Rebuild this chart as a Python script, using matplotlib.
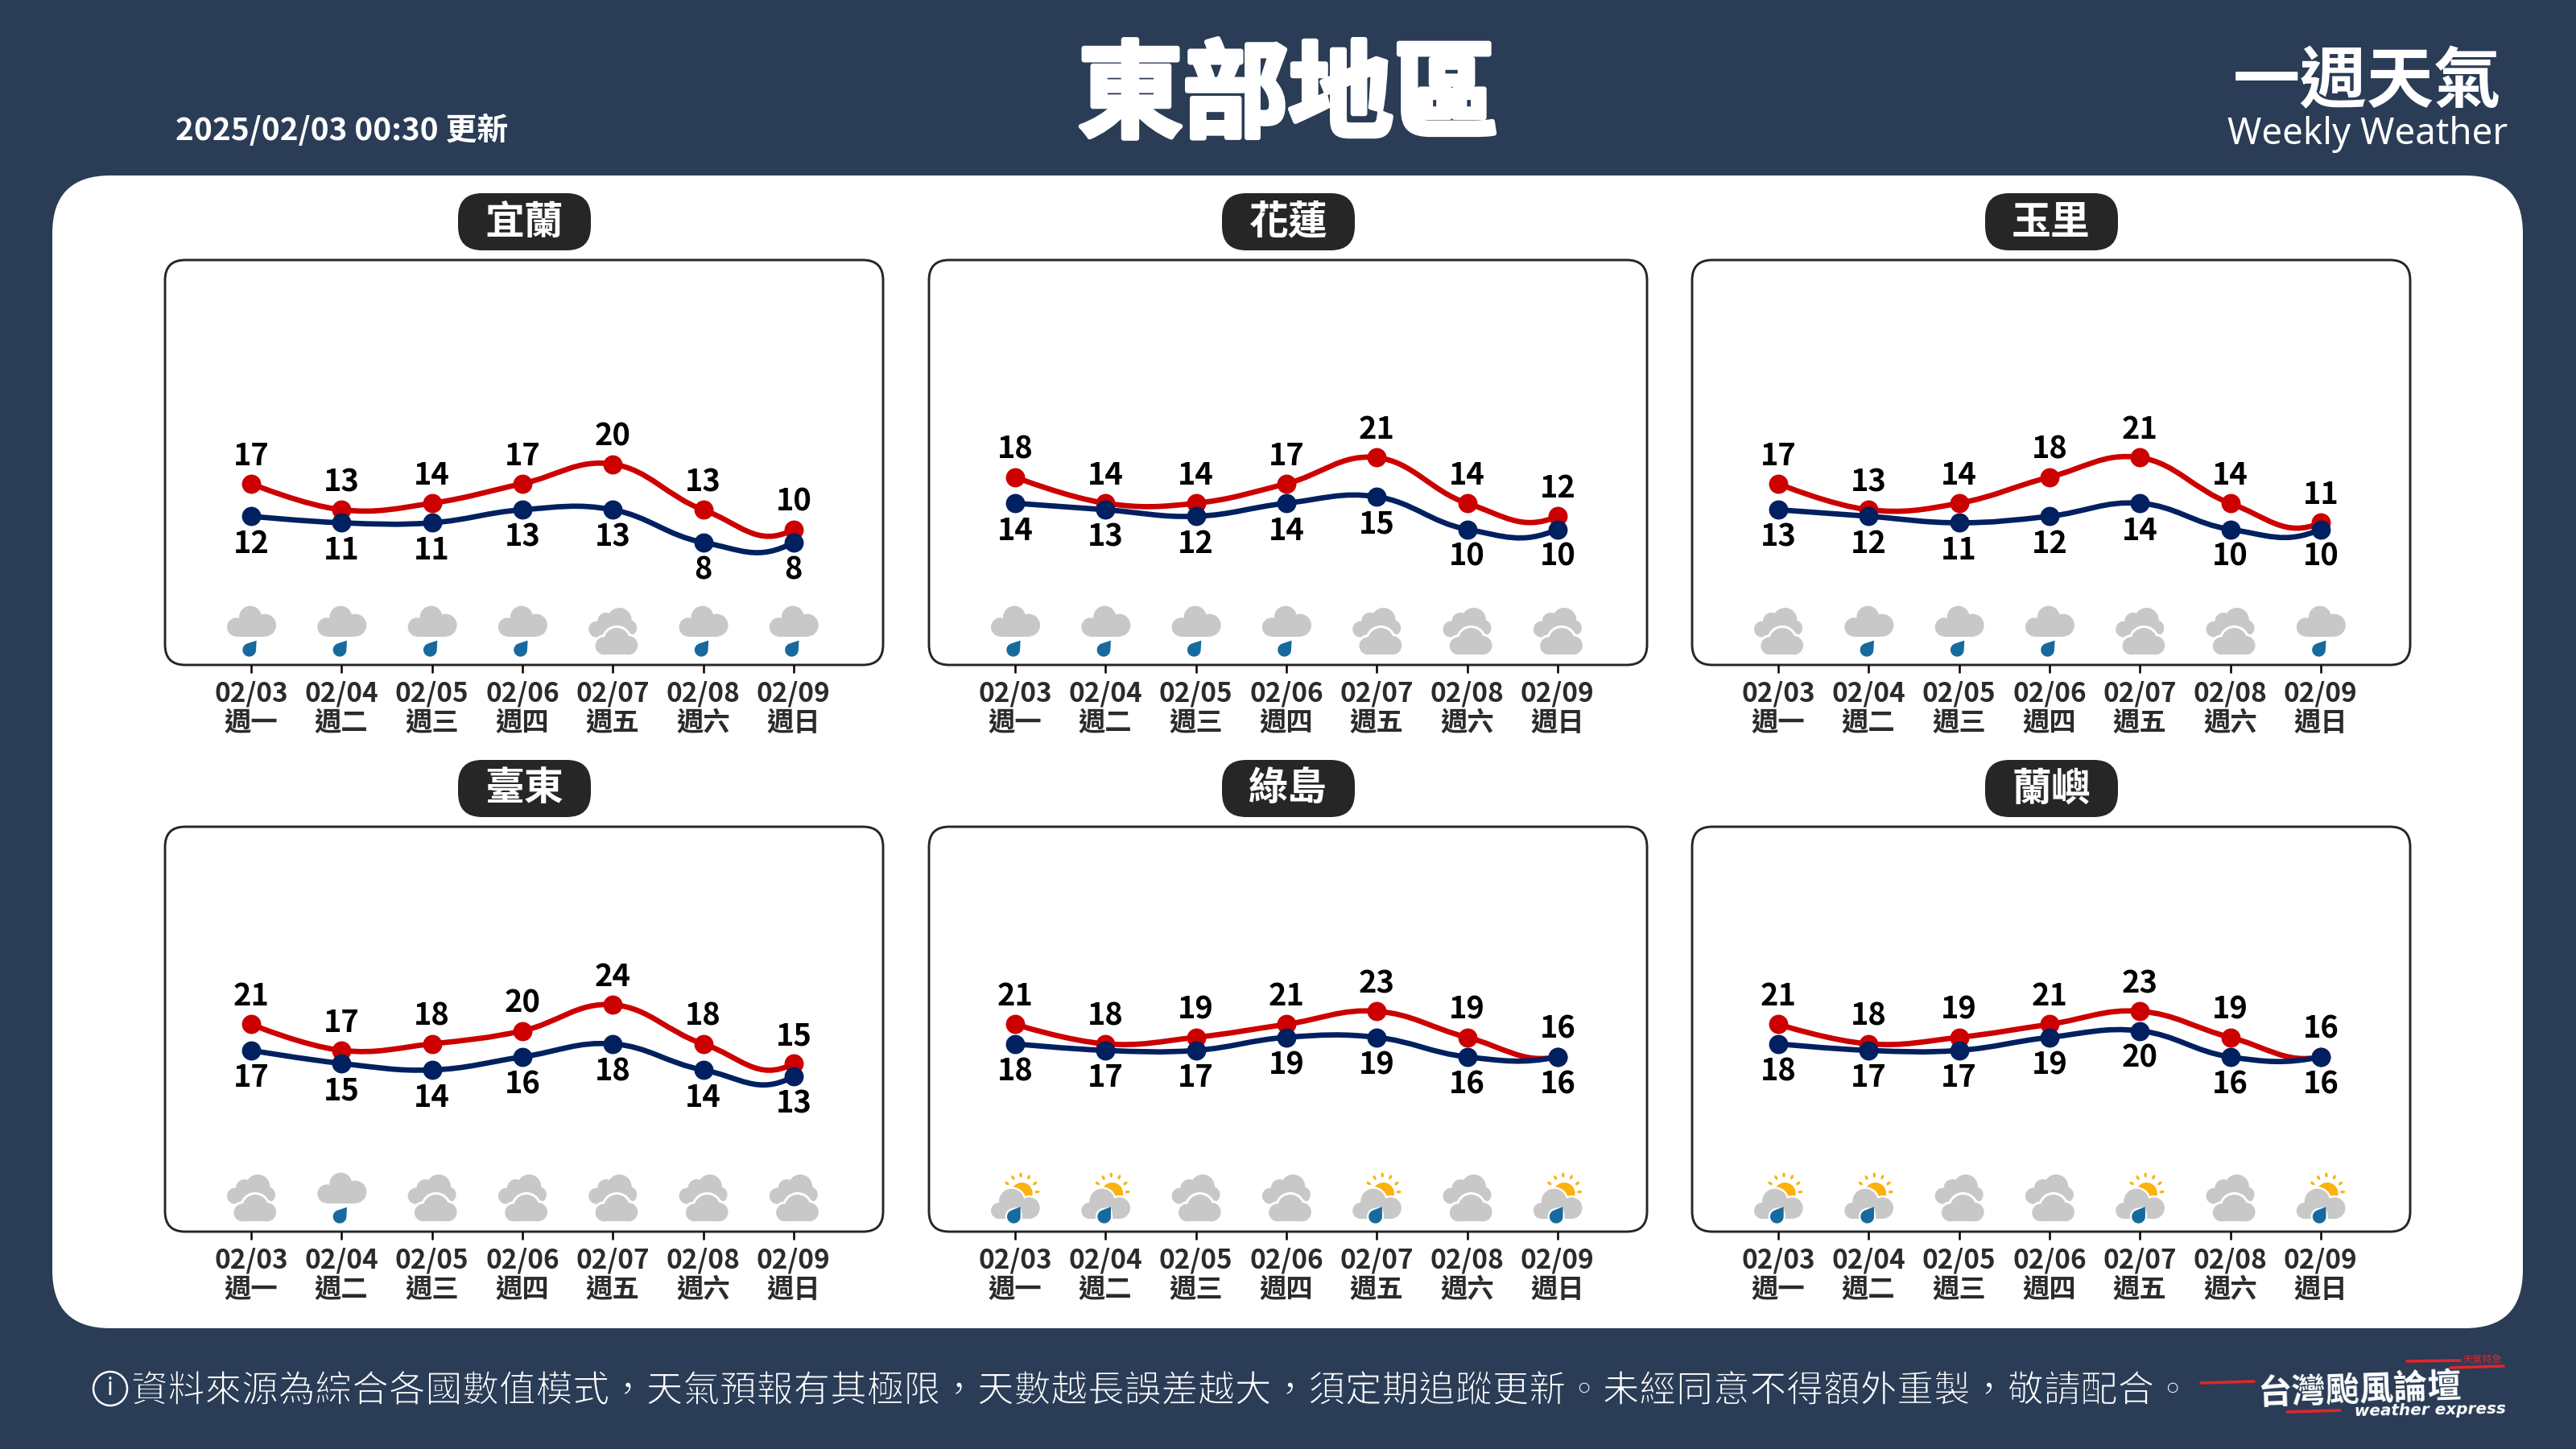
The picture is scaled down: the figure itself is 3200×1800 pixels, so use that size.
import numpy as np
import matplotlib

matplotlib.use("Agg")

import matplotlib.pyplot as plt
import matplotlib.patheffects as pe
from matplotlib.patches import Circle, Ellipse, FancyBboxPatch, PathPatch, Polygon, Rectangle
from matplotlib.path import Path

plt.rcParams["font.family"] = ["Noto Sans CJK TC", "DejaVu Sans"]

W, H = 3200, 1800
BG = "#2a3c56"
HIGH_COLOR = "#cc0000"
LOW_COLOR = "#002060"
CLOUD = "#c8c8c8"
DROP = "#176a9e"
SUN = "#fbb20e"
LOGO_RED = "#e0262b"

DATES = ["02/03", "02/04", "02/05", "02/06", "02/07", "02/08", "02/09"]
WEEKDAYS = ["週一", "週二", "週三", "週四", "週五", "週六", "週日"]

STATIONS = ["宜蘭", "花蓮", "玉里", "臺東", "綠島", "蘭嶼"]

yilan_high = [17, 13, 14, 17, 20, 13, 10]
yilan_low = [12, 11, 11, 13, 13, 8, 8]
hualien_high = [18, 14, 14, 17, 21, 14, 12]
hualien_low = [14, 13, 12, 14, 15, 10, 10]
yuli_high = [17, 13, 14, 18, 21, 14, 11]
yuli_low = [13, 12, 11, 12, 14, 10, 10]
taitung_high = [21, 17, 18, 20, 24, 18, 15]
taitung_low = [17, 15, 14, 16, 18, 14, 13]
ludao_high = [21, 18, 19, 21, 23, 19, 16]
ludao_low = [18, 17, 17, 19, 19, 16, 16]
lanyu_high = [21, 18, 19, 21, 23, 19, 16]
lanyu_low = [18, 17, 17, 19, 20, 16, 16]

HIGHS = [yilan_high, hualien_high, yuli_high, taitung_high, ludao_high, lanyu_high]
LOWS = [yilan_low, hualien_low, yuli_low, taitung_low, ludao_low, lanyu_low]

# r = cloud and rain, c = two clouds, s = sun, cloud and rain
yilan_sky = list("rrrrcrr")
hualien_sky = list("rrrrccc")
yuli_sky = list("crrrccr")
taitung_sky = list("crccccc")
ludao_sky = list("ssccscs")
lanyu_sky = list("ssccscs")
SKIES = [yilan_sky, hualien_sky, yuli_sky, taitung_sky, ludao_sky, lanyu_sky]

FOOTER = "資料來源為綜合各國數值模式，天氣預報有其極限，天數越長誤差越大，須定期追蹤更新。未經同意不得額外重製，敬請配合。"

BOX_X = [205, 1154, 2102]
BOX_Y = [323, 1027]
BOX_W = 892
BOX_H = 503

# how far the curve swings under its last point, per panel
END_HOOK = [3, 2.4, 2.4, 3, 1.1, 1.1]


def spline_path(values, hook):
    # same control points as a Highcharts spline, smoothing 1.5
    xs = np.arange(len(values), dtype=float)
    ys = np.array(values, dtype=float)
    n = len(xs)
    left = [(xs[0], ys[0])] * n
    right = [(xs[-1], ys[-1])] * n
    for i in range(1, n - 1):
        lx, ly = (1.5 * xs[i] + xs[i - 1]) / 2.5, (1.5 * ys[i] + ys[i - 1]) / 2.5
        rx, ry = (1.5 * xs[i] + xs[i + 1]) / 2.5, (1.5 * ys[i] + ys[i + 1]) / 2.5
        corr = (ry - ly) * (rx - xs[i]) / (rx - lx) + ys[i] - ry
        left[i] = (lx, ly + corr)
        right[i] = (rx, ry + corr)
    right[0] = (xs[0], ys[0])
    # the reference curve hooks upward into its last point
    left[-1] = (xs[-1] - 0.4, ys[-1] - hook)
    verts = [(xs[0], ys[0])]
    codes = [Path.MOVETO]
    for i in range(1, n):
        verts += [right[i - 1], left[i], (xs[i], ys[i])]
        codes += [Path.CURVE4] * 3
    return Path(verts, codes)


def teardrop(ov, cx, base, center, r, tip, color, zorder, outline=0):
    # center, r and tip are in 3x crop units relative to tick and axis line
    c = np.array([cx + center[0] / 3, base - center[1] / 3])
    t = np.array([cx + tip[0] / 3, base - tip[1] / 3])
    rad = (r + outline) / 3
    d = t - c
    dist = np.hypot(*d)
    a0 = np.arctan2(d[1], d[0])
    spread = np.arccos(rad / dist)
    angles = np.linspace(a0 + spread, a0 + 2 * np.pi - spread, 40)
    pts = np.column_stack([c[0] + rad * np.cos(angles), c[1] + rad * np.sin(angles)])
    ov.add_patch(Polygon(np.vstack([t, pts]), closed=True, fc=color, ec="none", zorder=zorder))


def cloud(ov, cx, base, circles, rect, color, zorder, grow=0):
    for x, y, r in circles:
        ov.add_patch(Circle((cx + x / 3, base - y / 3), (r + grow) / 3, fc=color, ec="none", zorder=zorder))
    x0, x1, y0, y1 = rect
    ov.add_patch(Rectangle((cx + x0 / 3, base - (y1 + grow) / 3), (x1 - x0) / 3, (y1 - y0 + 2 * grow) / 3,
                           fc=color, ec="none", zorder=zorder))


def draw_icon(ov, cx, base, kind):
    if kind == "r":
        cloud(ov, cx, base, [(-3, 178, 42), (-55, 141, 35), (51, 148, 42)], (-55, 51, 106, 148), CLOUD, 2)
        teardrop(ov, cx, base, (-7, 56), 25, (20, 91), DROP, 2)
    elif kind == "c":
        cloud(ov, cx, base, [(25, 168, 45), (-25, 163, 32), (-60, 133, 30), (60, 138, 30)],
              (-60, 60, 103, 138), CLOUD, 2)
        front = [(15, 90, 48), (-32, 71, 33), (58, 73, 35)]
        cloud(ov, cx, base, front, (-32, 58, 38, 73), "white", 3, grow=9)
        cloud(ov, cx, base, front, (-32, 58, 38, 73), CLOUD, 4)
    else:
        ov.add_patch(Circle((cx + 25 / 3, base - 143 / 3), 40 / 3, fc=SUN, ec="none", zorder=2))
        for x, y in [(-30, 180), (-8, 201), (21, 211), (51, 203), (74, 180), (82, 148)]:
            ang = np.degrees(np.arctan2(-(y - 143), x - 25))
            ov.add_patch(Ellipse((cx + x / 3, base - y / 3), 18 / 3, 10 / 3, angle=ang,
                                 fc=SUN, ec="none", zorder=2))
        parts = [(-13, 113, 47), (-60, 78, 30), (52, 88, 40)]
        cloud(ov, cx, base, parts, (-60, 52, 48, 88), "white", 3, grow=7)
        cloud(ov, cx, base, parts, (-60, 52, 48, 88), CLOUD, 4)
        teardrop(ov, cx, base, (-5, 56), 25, (20, 93), "white", 5, outline=7)
        teardrop(ov, cx, base, (-5, 56), 25, (20, 93), DROP, 6)


fig = plt.figure(figsize=(16, 9), dpi=200, facecolor=BG)
ov = fig.add_axes([0, 0, 1, 1], zorder=0)
ov.set_xlim(0, W)
ov.set_ylim(H, 0)
ov.axis("off")

# white card
ov.add_patch(FancyBboxPatch((65 + 72, 218 + 72), 3069 - 144, 1432 - 144,
                            boxstyle="round,pad=72,rounding_size=72", fc="white", ec="none", zorder=1))

# header
ov.text(W / 2, 122, "東部地區", color="white", fontsize=47, fontweight="bold", ha="center", va="center",
        path_effects=[pe.withStroke(linewidth=2.2, foreground="white")])
ov.text(218, 162, "2025/02/03 00:30 更新", color="white", fontsize=14, fontweight="bold", ha="left", va="center")
ov.text(2941, 103, "一週天氣", color="white", fontsize=30, fontweight="bold", ha="center", va="center")
ov.text(2941, 167, "Weekly Weather", color="white", fontsize=16.4, family="Noto Sans", ha="center", va="center")

# footer
ov.add_patch(Circle((137, 1725), 21, fc="none", ec="white", lw=0.9, zorder=2))
ov.text(137, 1725, "i", color="white", fontsize=11, fontweight="bold", family="Noto Sans", ha="center", va="center")
ov.text(163, 1728, FOOTER, color="white", fontsize=16.45, ha="left", va="center",
        path_effects=[pe.Stroke(linewidth=0.45, foreground=BG)])

# logo
for (x0, y0, x1, y1) in [(2734, 1718, 2800, 1716), (2990, 1691, 3056, 1690),
                         (3044, 1699, 3110, 1697), (2841, 1754, 2907, 1752)]:
    ov.plot([x0, x1], [y0, y1], color=LOGO_RED, lw=1.3, solid_capstyle="round", zorder=2)
ov.text(2931, 1728, "台灣颱風論壇", color="white", fontsize=15.2, fontweight="bold", ha="center", va="center",
        rotation=2)
ov.text(3019, 1752, "weather express", color="white", fontsize=7.2, family="DejaVu Sans", fontweight="bold",
        fontstyle="oblique", ha="center", va="center", rotation=1)
ov.text(3084, 1689, "天氣特急", color=LOGO_RED, fontsize=4.4, ha="center", va="center", rotation=1)

# panels
for k, station in enumerate(STATIONS):
    x0 = BOX_X[k % 3]
    y0 = BOX_Y[k // 3]
    ov.add_patch(FancyBboxPatch((x0 + 25, y0 + 25), BOX_W - 50, BOX_H - 50,
                                boxstyle="round,pad=25,rounding_size=25",
                                fc="white", ec="#262626", lw=1.05, zorder=1.5))
    pill_x = x0 + BOX_W / 2
    ov.add_patch(FancyBboxPatch((pill_x - 82 + 30, y0 - 83 + 30), 165 - 60, 71 - 60,
                                boxstyle="round,pad=30,rounding_size=30", fc="#262626", ec="none", zorder=2))
    ov.text(pill_x, y0 - 47, station, color="white", fontsize=17.6, fontweight="bold",
            ha="center", va="center", zorder=3)

    ax = fig.add_axes([x0 / W, 1 - (y0 + BOX_H) / H, BOX_W / W, BOX_H / H], zorder=1)
    ax.patch.set_visible(False)
    for spine in ax.spines.values():
        spine.set_visible(False)
    ax.set_xlim(-0.953, 6.99)
    ax.set_ylim(-10.8, 51.3)
    ax.set_yticks([])
    ax.set_xticks(range(len(DATES)))
    ax.set_xticklabels([d + "\n" + w for d, w in zip(DATES, WEEKDAYS)], fontsize=12, fontweight="bold",
                       color="#2b2b2b", linespacing=1.12)
    ax.tick_params(axis="x", length=3.6, width=0.9, color="black", pad=3.5)

    days = np.arange(len(DATES))
    highs = HIGHS[k]
    lows = LOWS[k]
    ax.add_patch(PathPatch(spline_path(highs, END_HOOK[k]), fc="none", ec=HIGH_COLOR, lw=2.4, zorder=3))
    ax.plot(days, highs, "o", color=HIGH_COLOR, ms=8.6, mew=0, zorder=3)
    ax.add_patch(PathPatch(spline_path(lows, END_HOOK[k]), fc="none", ec=LOW_COLOR, lw=2.4, zorder=4))
    ax.plot(days, lows, "o", color=LOW_COLOR, ms=8.6, mew=0, zorder=4)
    for i in days:
        ax.annotate(str(highs[i]), (i, highs[i]), xytext=(0, 12.4), textcoords="offset points",
                    ha="center", va="center", fontsize=13.7, fontweight="bold", color="black", zorder=5)
        ax.annotate(str(lows[i]), (i, lows[i]), xytext=(0, -12.2), textcoords="offset points",
                    ha="center", va="center", fontsize=13.7, fontweight="bold", color="black", zorder=5)

    # icons sit on the panel floor at each tick
    for i, kind in enumerate(SKIES[k]):
        tick_x = ax.transData.transform((i, 0))[0]
        draw_icon(ov, tick_x, y0 + BOX_H, kind)

fig.savefig("out.png", dpi=200, facecolor=BG)
